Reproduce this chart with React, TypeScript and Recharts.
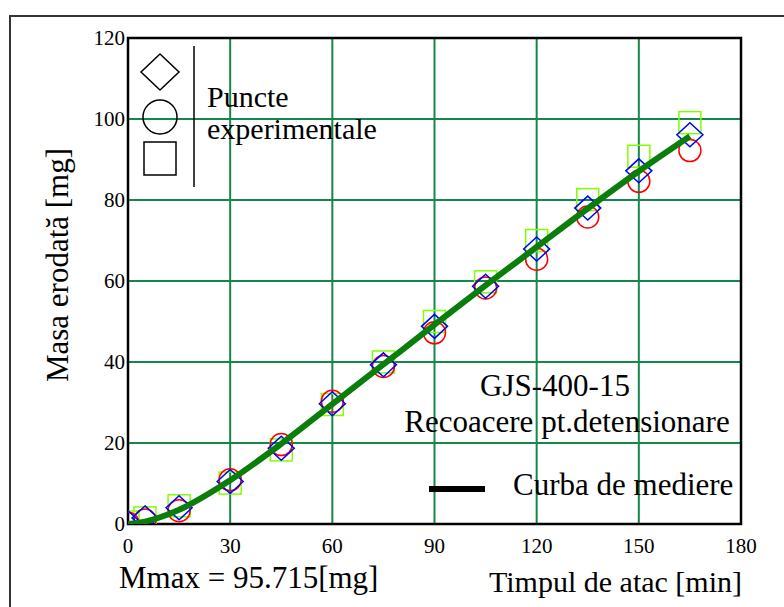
import React from "react";
import {
  CartesianGrid, ComposedChart, Line, ReferenceArea, Scatter, XAxis, YAxis
} from "recharts";

// Erosion time [min] and eroded mass [mg] for the three samples
const TIME = [0, 5, 15, 30, 45, 60, 75, 90, 105, 120, 135, 150, 165];
const SAMPLE_DIAMOND = [0.3, 1.5, 4.0, 10.5, 18.7, 29.7, 39.3, 48.8, 58.7, 67.9, 78.0, 87.2, 96.1];
const SAMPLE_CIRCLE = [0.2, 1.0, 3.3, 10.9, 19.6, 30.3, 38.9, 47.2, 58.3, 65.4, 75.8, 84.6, 92.2];
const SAMPLE_SQUARE = [0.5, 1.5, 4.5, 10.1, 18.3, 29.5, 40.0, 50.0, 59.8, 70.0, 80.1, 90.8, 99.1];
// averaging curve
const FIT_MASS = [0, 0.6, 3.5, 10.8, 19.8, 29.6, 39.4, 49.2, 58.9, 68.4, 77.9, 87.1, 95.715];

const X_TICKS = [0, 30, 60, 90, 120, 150, 180];
const Y_TICKS = [0, 20, 40, 60, 80, 100, 120];
const M_MAX = 95.715;

const FONT = "'Liberation Serif', 'Times New Roman', serif";
const GRID = "#14884a";

const toPoints = (values: number[]) => TIME.map((t, i) => ({ t, m: values[i] }));
const fitData = TIME.map((t, i) => ({ t, fit: FIT_MASS[i] }));

const DiamondMark = (p: any) => (
  <polygon
    points={`${p.cx},${p.cy - 12} ${p.cx + 13},${p.cy} ${p.cx},${p.cy + 12} ${p.cx - 13},${p.cy}`}
    fill="none" stroke="#0000ff" strokeWidth={1.5}
  />
);
const CircleMark = (p: any) => (
  <circle cx={p.cx} cy={p.cy} r={11} fill="none" stroke="#ff0000" strokeWidth={1.5} />
);
const SquareMark = (p: any) => (
  <rect x={p.cx - 11} y={p.cy - 11} width={22} height={22} fill="none" stroke="#80ff00" strokeWidth={1.5} />
);

const tickStyle = { fontSize: 21, fill: "#000", fontFamily: FONT };

export default function App() {
  return (
    <div style={{ position: "absolute", left: 0, top: 0, width: 784, height: 607, background: "#fff" }}>
      <ComposedChart
        width={784}
        height={607}
        margin={{ top: 38, right: 43, bottom: 43, left: 68 }}
      >
        <CartesianGrid stroke={GRID} strokeWidth={2} horizontalValues={Y_TICKS} verticalValues={X_TICKS} />
        <XAxis
          type="number" dataKey="t" domain={[0, 180]} ticks={X_TICKS} allowDataOverflow
          height={40} axisLine={false} tickLine={false} tickSize={0} tickMargin={14} tick={tickStyle}
        />
        <YAxis
          type="number" dataKey="m" domain={[0, 120]} ticks={Y_TICKS} allowDataOverflow
          width={60} axisLine={false} tickLine={false} tickSize={0} tickMargin={3} tick={tickStyle}
        />
        <ReferenceArea x1={0} x2={180} y1={0} y2={120} fill="none" stroke="#000" strokeWidth={2.5} />
        <Scatter data={toPoints(SAMPLE_SQUARE)} dataKey="m" shape={SquareMark} isAnimationActive={false} />
        <Scatter data={toPoints(SAMPLE_CIRCLE)} dataKey="m" shape={CircleMark} isAnimationActive={false} />
        <Scatter data={toPoints(SAMPLE_DIAMOND)} dataKey="m" shape={DiamondMark} isAnimationActive={false} />
        <Line
          data={fitData} dataKey="fit" type="monotone" stroke="#0a7d0a" strokeWidth={6}
          dot={false} activeDot={false} isAnimationActive={false} zIndex={700}
        />
      </ComposedChart>

      <svg
        width={784} height={607}
        style={{ position: "absolute", left: 0, top: 0, pointerEvents: "none", fontFamily: FONT }}
      >
        {/* outer frame */}
        <path d="M10 607 V16 H784" fill="none" stroke="#333" strokeWidth={2} />

        {/* legend for experimental points */}
        <g fill="none" stroke="#000" strokeWidth={1.5}>
          <polygon points="160,54 179,72 160,90 141,72" />
          <circle cx={160} cy={117} r={17} />
          <rect x={144} y={142} width={32} height={33} />
          <line x1={194} y1={46} x2={194} y2={187} />
        </g>
        <text x={207} y={107} fontSize={30}>Puncte</text>
        <text x={207} y={139} fontSize={30}>experimentale</text>

        <text x={555} y={396} fontSize={31} textAnchor="middle">GJS-400-15</text>
        <text x={567} y={432} fontSize={31} textAnchor="middle">Recoacere pt.detensionare</text>

        <line x1={429} y1={489} x2={485} y2={489} stroke="#000" strokeWidth={6} />
        <text x={513} y={495} fontSize={31}>Curba de mediere</text>

        <text x={68} y={265} fontSize={31} textAnchor="middle" transform="rotate(-90 68 265)">
          Masa erodată [mg]
        </text>
        <text x={119} y={588} fontSize={31}>{`Mmax = ${M_MAX}[mg]`}</text>
        <text x={742} y={592} fontSize={30} textAnchor="end">Timpul de atac [min]</text>
      </svg>
    </div>
  );
}
